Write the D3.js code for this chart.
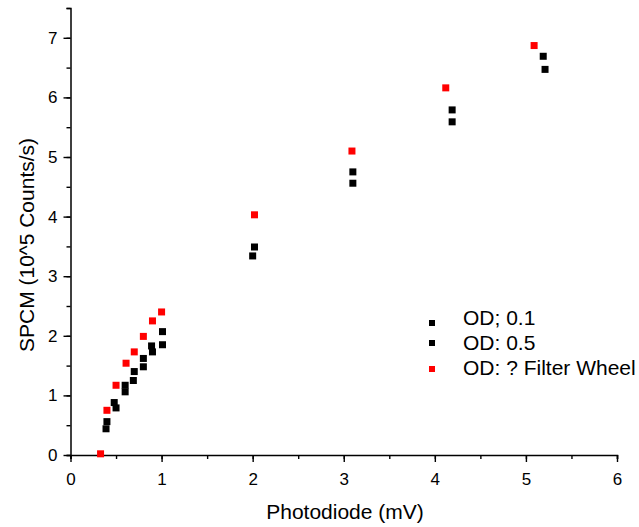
<!DOCTYPE html>
<html>
<head>
<meta charset="utf-8">
<script src="https://cdn.jsdelivr.net/npm/d3@7"></script>
<style>
  body { margin: 0; background: #fff; }
  text { font-family: "Liberation Sans", Arial, sans-serif; fill: #000; }
</style>
</head>
<body>
<svg id="chart" width="639" height="527"></svg>
<script>
// photodiode readings (mV) and SPCM counts (10^5/s)
const od01X = [0.40, 0.48, 0.60, 0.70, 0.80, 0.89, 1.01, 2.02, 3.10, 4.19, 5.19];
const od01Y = [0.56, 0.88, 1.17, 1.40, 1.62, 1.83, 2.07, 3.49, 4.75, 5.79, 6.69];
const od05X = [0.39, 0.50, 0.60, 0.69, 0.80, 0.90, 1.01, 2.00, 3.10, 4.19, 5.21];
const od05Y = [0.44, 0.79, 1.06, 1.25, 1.48, 1.73, 1.85, 3.34, 4.56, 5.59, 6.47];
const wheelX = [0.33, 0.40, 0.50, 0.61, 0.70, 0.80, 0.90, 1.00, 2.02, 3.09, 4.12, 5.09];
const wheelY = [0.02, 0.75, 1.17, 1.54, 1.73, 1.99, 2.25, 2.40, 4.03, 5.10, 6.16, 6.87];

const seriesNames = ["OD; 0.1", "OD: 0.5", "OD: ? Filter Wheel"];
const seriesColors = ["#000000", "#000000", "#ff0000"];
const xTicks = [0, 1, 2, 3, 4, 5, 6];
const yTicks = [0, 1, 2, 3, 4, 5, 6, 7];

const series = [
  { name: seriesNames[0], color: seriesColors[0], pts: od01X.map((x, i) => [x, od01Y[i]]) },
  { name: seriesNames[1], color: seriesColors[1], pts: od05X.map((x, i) => [x, od05Y[i]]) },
  { name: seriesNames[2], color: seriesColors[2], pts: wheelX.map((x, i) => [x, wheelY[i]]) }
];

const svg = d3.select("#chart");
const x = d3.scaleLinear().domain([0, 6]).range([70.5, 617]);
const y = d3.scaleLinear().domain([0, 7.5]).range([455, 8]);

// x axis: minor ticks + major ticks with labels
svg.append("g").attr("transform", "translate(0,455)")
  .call(d3.axisBottom(x).tickValues(d3.range(0, 6.01, 0.5)).tickSize(4).tickFormat(""));
const xMajor = svg.append("g").attr("transform", "translate(0,455)")
  .call(d3.axisBottom(x).tickValues(xTicks).tickSize(7).tickPadding(11).tickFormat(d3.format("d")));
xMajor.select(".domain").remove();

// y axis
svg.append("g").attr("transform", "translate(70.5,0)")
  .call(d3.axisLeft(y).tickValues(d3.range(0, 7.51, 0.5)).tickSize(4).tickFormat(""));
const yMajor = svg.append("g").attr("transform", "translate(70.5,0)")
  .call(d3.axisLeft(y).tickValues(yTicks).tickSize(7).tickPadding(6).tickFormat(d3.format("d")));
yMajor.select(".domain").remove();

svg.selectAll(".domain").attr("stroke-width", 1.5);
svg.selectAll(".tick line").attr("stroke-width", 1.4);
svg.selectAll(".tick text").style("font-size", "17px").style("font-family", "Liberation Sans, Arial, sans-serif");

// axis titles
svg.append("text")
  .attr("x", 345).attr("y", 519)
  .attr("text-anchor", "middle")
  .style("font-size", "21px")
  .text("Photodiode (mV)");

svg.append("text")
  .attr("transform", "translate(34,245) rotate(-90)")
  .attr("text-anchor", "middle")
  .style("font-size", "21px")
  .text("SPCM (10^5 Counts/s)");

// points
const sz = 7;
series.forEach(s => {
  svg.append("g").selectAll("rect")
    .data(s.pts)
    .enter().append("rect")
    .attr("x", d => x(d[0]) - sz / 2)
    .attr("y", d => y(d[1]) - sz / 2)
    .attr("width", sz)
    .attr("height", sz)
    .attr("fill", s.color);
});

// legend
const legendMarkY = [323, 343, 369];
const legendTextY = [325, 350, 375];
const legend = svg.append("g");
series.forEach((s, i) => {
  legend.append("rect")
    .attr("x", 429).attr("y", legendMarkY[i] - 3)
    .attr("width", 6).attr("height", 6)
    .attr("fill", s.color);
  legend.append("text")
    .attr("x", 463).attr("y", legendTextY[i])
    .style("font-size", "21px")
    .text(s.name);
});
</script>
</body>
</html>
